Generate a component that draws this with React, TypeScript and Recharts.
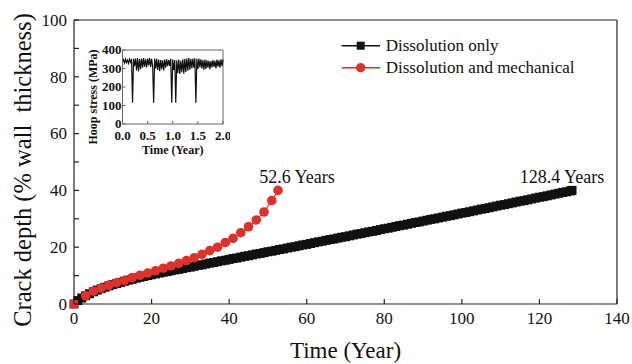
import { LineChart, Line, XAxis, YAxis, ReferenceLine, ReferenceDot } from 'recharts';

const FONT = 'Liberation Serif, Times New Roman, Times, serif';
const BLACK = '#111';
const RED = '#e0302b';
const AXIS = '#222';

// main chart: crack depth (% wall thickness) vs time (year)
const dissolutionYears = [
  0, 1, 2, 3, 4, 5, 6, 7, 8, 9,
  10, 11, 12, 13, 14, 15, 16, 17, 18, 19,
  20, 21, 22, 23, 24, 25, 26, 27, 28, 29,
  30, 31, 32, 33, 34, 35, 36, 37, 38, 39,
  40, 41, 42, 43, 44, 45, 46, 47, 48, 49,
  50, 51, 52, 53, 54, 55, 56, 57, 58, 59,
  60, 61, 62, 63, 64, 65, 66, 67, 68, 69,
  70, 71, 72, 73, 74, 75, 76, 77, 78, 79,
  80, 81, 82, 83, 84, 85, 86, 87, 88, 89,
  90, 91, 92, 93, 94, 95, 96, 97, 98, 99,
  100, 101, 102, 103, 104, 105, 106, 107, 108, 109,
  110, 111, 112, 113, 114, 115, 116, 117, 118, 119,
  120, 121, 122, 123, 124, 125, 126, 127, 128, 128.4,
];
const dissolutionDepth = [
  0, 1.2, 2.1, 2.9, 3.6, 4.3, 4.9, 5.4, 5.9, 6.4,
  6.8, 7.2, 7.6, 8.0, 8.4, 8.7, 9.1, 9.4, 9.7, 10.0,
  10.3, 10.6, 10.9, 11.2, 11.4, 11.7, 12.0, 12.2, 12.5, 12.8,
  13.0, 13.3, 13.6, 13.8, 14.1, 14.4, 14.6, 14.9, 15.2, 15.4,
  15.7, 16.0, 16.2, 16.5, 16.8, 17.0, 17.3, 17.6, 17.8, 18.1,
  18.4, 18.6, 18.9, 19.2, 19.4, 19.7, 20.0, 20.2, 20.5, 20.8,
  21.0, 21.3, 21.6, 21.9, 22.1, 22.4, 22.7, 22.9, 23.2, 23.5,
  23.7, 24.0, 24.3, 24.6, 24.8, 25.1, 25.4, 25.6, 25.9, 26.2,
  26.5, 26.7, 27.0, 27.3, 27.6, 27.8, 28.1, 28.4, 28.7, 28.9,
  29.2, 29.5, 29.8, 30.0, 30.3, 30.6, 30.9, 31.1, 31.4, 31.7,
  32.0, 32.2, 32.5, 32.8, 33.1, 33.4, 33.6, 33.9, 34.2, 34.5,
  34.8, 35.0, 35.3, 35.6, 35.9, 36.2, 36.4, 36.7, 37.0, 37.3,
  37.6, 37.8, 38.1, 38.4, 38.7, 39.0, 39.3, 39.5, 39.8, 40.0,
];
const mechanicalYears = [
  0, 3, 5, 7, 9, 11, 13, 15, 17, 19, 21, 23, 25, 27,
  29, 31, 33, 35, 37, 39, 41, 43, 45, 47, 49, 51, 52.6,
];
const mechanicalDepth = [
  0, 2.9, 4.5, 5.6, 6.6, 7.5, 8.3, 9.3, 10.1, 10.9, 11.7, 12.6, 13.4, 14.3,
  15.3, 16.3, 17.5, 18.8, 20.0, 21.6, 23.1, 25.1, 27.2, 29.6, 32.4, 36.4, 40.0,
];

// inset: hoop stress (MPa) vs time (year)
const stressTime = [
  0, 0.02, 0.04, 0.06, 0.08, 0.1, 0.12, 0.14, 0.16, 0.18,
  0.2, 0.22, 0.24, 0.26, 0.28, 0.3, 0.32, 0.34, 0.36, 0.38,
  0.4, 0.42, 0.44, 0.46, 0.48, 0.5, 0.52, 0.54, 0.56, 0.58,
  0.6, 0.62, 0.64, 0.66, 0.68, 0.7, 0.72, 0.74, 0.76, 0.78,
  0.8, 0.82, 0.84, 0.86, 0.88, 0.9, 0.92, 0.94, 0.96, 0.98,
  1.0, 1.02, 1.04, 1.06, 1.08, 1.1, 1.12, 1.14, 1.16, 1.18,
  1.2, 1.22, 1.24, 1.26, 1.28, 1.3, 1.32, 1.34, 1.36, 1.38,
  1.4, 1.42, 1.44, 1.46, 1.48, 1.5, 1.52, 1.54, 1.56, 1.58,
  1.6, 1.62, 1.64, 1.66, 1.68, 1.7, 1.72, 1.74, 1.76, 1.78,
  1.8, 1.82, 1.84, 1.86, 1.88, 1.9, 1.92, 1.94, 1.96, 1.98,
  2.0,
];
const stressMPa = [
  335, 348, 330, 350, 332, 346, 328, 350, 334, 352,
  115, 352, 312, 354, 290, 356, 284, 352, 296, 354,
  305, 356, 310, 350, 306, 354, 316, 356, 308, 352,
  314, 115, 354, 300, 352, 292, 348, 286, 346, 296,
  344, 290, 348, 304, 350, 312, 346, 314, 352, 115,
  348, 292, 346, 115, 344, 276, 348, 270, 342, 280,
  350, 272, 352, 282, 354, 288, 356, 294, 352, 300,
  354, 304, 356, 115, 352, 298, 354, 306, 350, 300,
  346, 294, 348, 298, 344, 304, 342, 296, 340, 306,
  346, 308, 342, 300, 348, 310, 344, 304, 350, 312,
  348,
];

const xTicks = [0, 20, 40, 60, 80, 100, 120, 140];
const yTicks = [0, 10, 20, 30, 40, 50, 60, 70, 80, 90, 100];
const insetXTicks = [0, 0.5, 1, 1.5, 2];
const insetYTicks = [0, 100, 200, 300, 400];

const seriesNames = ['Dissolution only', 'Dissolution and mechanical'];
const endLabels = [
  { x: 52.6, y: 40, text: '52.6 Years' },
  { x: 128.4, y: 40, text: '128.4 Years' },
];
const endLabelShift = [19, -10];

const dissolution = dissolutionYears.map((t, i) => ({ t, depth: dissolutionDepth[i] }));
const mechanical = mechanicalYears.map((t, i) => ({ t, depth: mechanicalDepth[i] }));
const stress = stressTime.map((t, i) => ({ t, mpa: stressMPa[i] }));

const serif = { fontFamily: FONT };
const serifBold = { fontFamily: FONT, fontWeight: 700 };

function MainYTick({ x, y, payload }: any) {
  const v = payload.value;
  return (
    <g>
      <line x1={x} x2={x + 5} y1={y} y2={y} stroke={AXIS} strokeWidth={1.2} />
      {v % 20 === 0 && (
        <text x={x - 7} y={y} dy="0.34em" textAnchor="end" fontSize={17} style={serif} fill={BLACK}>
          {v}
        </text>
      )}
    </g>
  );
}

function MainXTick({ x, y, payload }: any) {
  return (
    <g>
      <line x1={x} x2={x} y1={y} y2={y - 5} stroke={AXIS} strokeWidth={1.2} />
      <text x={x} y={y + 20} textAnchor="middle" fontSize={17} style={serif} fill={BLACK}>
        {payload.value}
      </text>
    </g>
  );
}

function InsetYTick({ x, y, payload }: any) {
  return (
    <g>
      <line x1={x} x2={x + 3} y1={y} y2={y} stroke="#666" />
      <text x={x - 1} y={y} dy="0.34em" textAnchor="end" fontSize={13} style={serifBold} fill={BLACK}>
        {payload.value}
      </text>
    </g>
  );
}

function InsetXTick({ x, y, payload }: any) {
  return (
    <g>
      <line x1={x} x2={x} y1={y} y2={y - 3} stroke="#666" />
      <text x={x} y={y + 16} textAnchor="middle" fontSize={13} style={serifBold} fill={BLACK}>
        {payload.value.toFixed(1)}
      </text>
    </g>
  );
}

function squareDot(props: any) {
  const { cx, cy, index } = props;
  return <rect key={`s${index}`} x={cx - 4.5} y={cy - 4.5} width={9} height={9} fill={BLACK} />;
}

function redDot(props: any) {
  const { cx, cy, index } = props;
  if (index === 0) {
    return <rect key={`r${index}`} x={cx - 4} y={cy - 4} width={8} height={8} fill={RED} />;
  }
  return <circle key={`r${index}`} cx={cx} cy={cy} r={4.8} fill={RED} />;
}

function EndLabel({ viewBox, text, shift }: any) {
  const cx = viewBox.x + viewBox.width / 2;
  const cy = viewBox.y + viewBox.height / 2;
  return (
    <text x={cx + shift} y={cy - 7} textAnchor="middle" fontSize={18} style={serif} fill={BLACK}>
      {text}
    </text>
  );
}

function YTitle({ viewBox }: any) {
  const x = viewBox.x + 22;
  const y = viewBox.y + viewBox.height / 2 + 8;
  return (
    <text
      x={x}
      y={y}
      transform={`rotate(-90 ${x} ${y})`}
      textAnchor="middle"
      dy="0.35em"
      fontSize={24.5}
      fill={BLACK}
      style={{ ...serif, whiteSpace: 'pre' }}
    >
      Crack depth (% wall  thickness)
    </text>
  );
}

function XTitle({ viewBox }: any) {
  return (
    <text x={viewBox.x + viewBox.width / 2} y={viewBox.y + 54} textAnchor="middle" fontSize={23} style={serif} fill={BLACK}>
      Time (Year)
    </text>
  );
}

function InsetYTitle({ viewBox }: any) {
  const x = viewBox.x + 13;
  const y = viewBox.y + viewBox.height / 2 + 10;
  return (
    <text x={x} y={y} transform={`rotate(-90 ${x} ${y})`} textAnchor="middle" dy="0.35em" fontSize={12} style={serifBold} fill={BLACK}>
      Hoop stress (MPa)
    </text>
  );
}

function InsetXTitle({ viewBox }: any) {
  return (
    <text x={viewBox.x + viewBox.width / 2} y={viewBox.y + 30} textAnchor="middle" fontSize={12} style={serifBold} fill={BLACK}>
      Time (Year)
    </text>
  );
}

function LegendBox() {
  const colors = [BLACK, RED];
  return (
    <svg width={270} height={50} style={{ position: 'absolute', left: 335, top: 30 }}>
      {seriesNames.map((name, i) => {
        const y = 15.7 + i * 22;
        return (
          <g key={name}>
            <line x1={6.7} x2={45} y1={y} y2={y} stroke={colors[i]} strokeWidth={1.5} />
            {i === 0 ? (
              <rect x={21.7} y={y - 4} width={8} height={8} fill={BLACK} />
            ) : (
              <circle cx={25.7} cy={y} r={4.7} fill={RED} />
            )}
            <text x={50.7} y={y} dy="0.34em" fontSize={17} style={serif} fill={BLACK}>
              {name}
            </text>
          </g>
        );
      })}
    </svg>
  );
}

export default function App() {
  return (
    <div style={{ position: 'absolute', left: 0, top: 0, width: 632, height: 364, background: '#fff', fontFamily: FONT }}>
      <LineChart width={632} height={364} margin={{ top: 20, right: 15, bottom: 0, left: 0 }}>
        <XAxis
          type="number"
          dataKey="t"
          domain={[0, 140]}
          ticks={xTicks}
          interval={0}
          height={60}
          tickSize={0}
          tickMargin={0}
          tickLine={false}
          tick={<MainXTick />}
          axisLine={{ stroke: AXIS, strokeWidth: 1.2 }}
          label={<XTitle />}
        />
        <YAxis
          type="number"
          domain={[0, 100]}
          ticks={yTicks}
          interval={0}
          width={74}
          tickSize={0}
          tickMargin={0}
          tickLine={false}
          tick={<MainYTick />}
          axisLine={{ stroke: AXIS, strokeWidth: 1.2 }}
          label={<YTitle />}
        />
        <ReferenceLine y={100} stroke={AXIS} strokeWidth={1.2} />
        <ReferenceLine x={140} stroke={AXIS} strokeWidth={1.2} />
        <Line
          data={dissolution}
          dataKey="depth"
          name={seriesNames[0]}
          stroke={BLACK}
          strokeWidth={1}
          dot={squareDot}
          isAnimationActive={false}
        />
        <Line
          data={mechanical}
          dataKey="depth"
          name={seriesNames[1]}
          stroke={RED}
          strokeWidth={1.2}
          dot={redDot}
          isAnimationActive={false}
        />
        {endLabels.map((l, i) => (
          <ReferenceDot
            key={l.text}
            x={l.x}
            y={l.y}
            r={0}
            fill="none"
            stroke="none"
            label={<EndLabel text={l.text} shift={endLabelShift[i]} />}
          />
        ))}
      </LineChart>

      <LegendBox />

      <div style={{ position: 'absolute', left: 80, top: 36 }}>
        <LineChart width={150} height={126} data={stress} margin={{ top: 14, right: 7, bottom: 0, left: 0 }}>
          <XAxis
            type="number"
            dataKey="t"
            domain={[0, 2]}
            ticks={insetXTicks}
            interval={0}
            height={38}
            tickSize={0}
            tickMargin={0}
            tickLine={false}
            tick={<InsetXTick />}
            axisLine={{ stroke: '#666' }}
            label={<InsetXTitle />}
          />
          <YAxis
            type="number"
            domain={[0, 400]}
            ticks={insetYTicks}
            interval={0}
            width={42.5}
            tickSize={0}
            tickMargin={0}
            tickLine={false}
            tick={<InsetYTick />}
            axisLine={{ stroke: '#666' }}
            label={<InsetYTitle />}
          />
          <ReferenceLine y={400} stroke="#666" />
          <ReferenceLine x={2} stroke="#666" />
          <Line dataKey="mpa" stroke={BLACK} strokeWidth={1.2} dot={false} isAnimationActive={false} />
        </LineChart>
      </div>
    </div>
  );
}
